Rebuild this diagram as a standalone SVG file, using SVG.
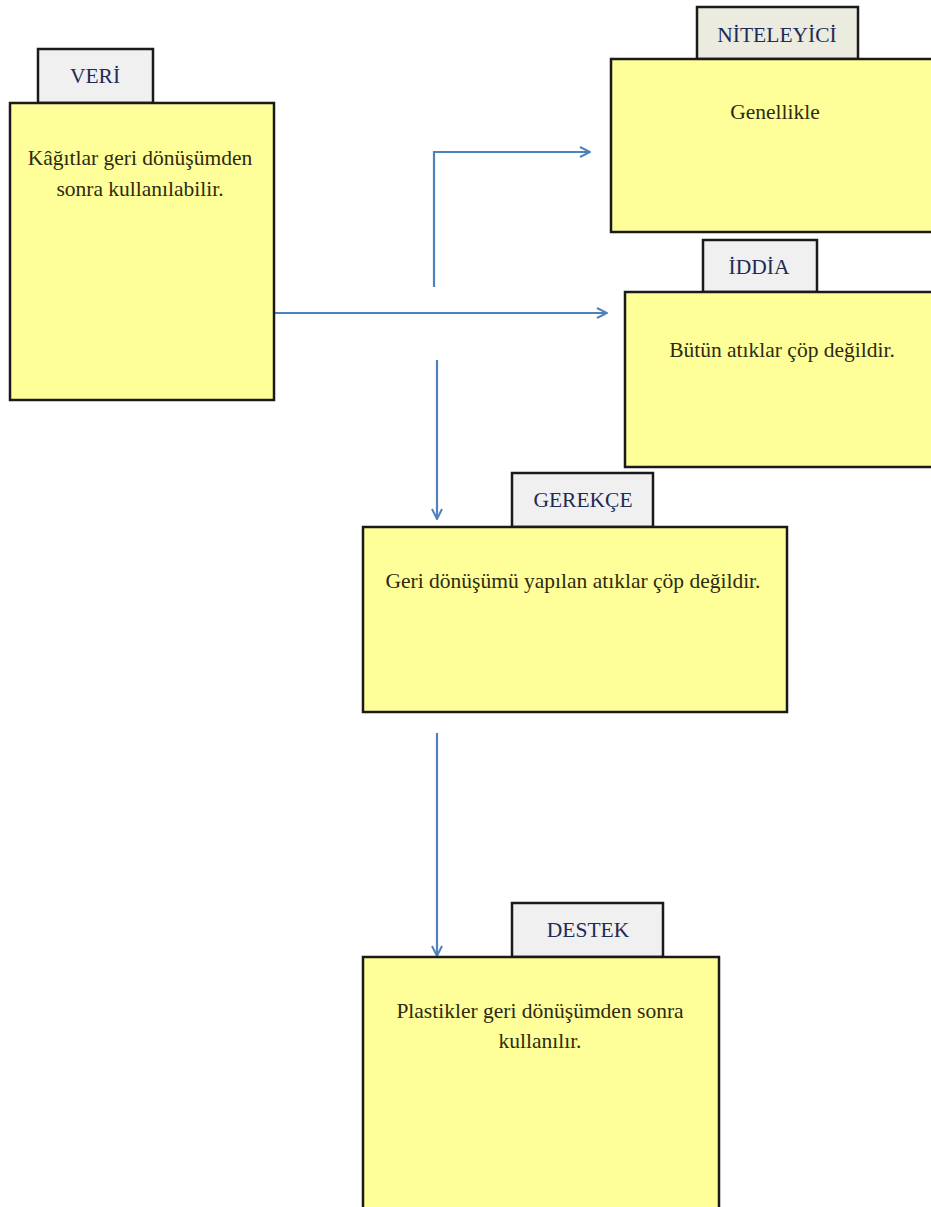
<svg xmlns="http://www.w3.org/2000/svg" width="931" height="1207" viewBox="0 0 931 1207">
<defs>
<style>
.box{fill:#ffff99;stroke:#1a1a1a;stroke-width:2.5}
.tab{fill:#f0f0f0;stroke:#1a1a1a;stroke-width:2.5}
.ttl{font-family:"Liberation Serif",serif;font-size:21.5px;fill:#1f2a55;text-anchor:middle}
.txt{font-family:"Liberation Serif",serif;font-size:21.5px;fill:#2e2a10;text-anchor:middle}
.con{fill:none;stroke:#4f81bd;stroke-width:2.2}
</style>
<marker id="ah" viewBox="0 0 12 12" refX="11" refY="6" markerWidth="12" markerHeight="12" markerUnits="userSpaceOnUse" orient="auto">
<path d="M1,1 L11,6 L1,11" fill="none" stroke="#4f81bd" stroke-width="2"/>
</marker>
</defs>
<rect width="931" height="1207" fill="#ffffff"/>
<g id="connectors">
<path class="con" d="M434,287 V152 H590" marker-end="url(#ah)"/>
<path class="con" d="M274,313 H607" marker-end="url(#ah)"/>
<path class="con" d="M437,360 V519" marker-end="url(#ah)"/>
<path class="con" d="M437,733 V956" marker-end="url(#ah)"/>
</g>
<g id="veri">
<rect class="tab" x="38" y="49" width="115" height="54"/>
<rect class="box" x="10" y="103" width="264" height="297"/>
<text class="ttl" x="95" y="83">VERİ</text>
<text class="txt" x="140" y="165">Kâğıtlar geri dönüşümden</text>
<text class="txt" x="140" y="196">sonra kullanılabilir.</text>
</g>
<g id="niteleyici">
<rect class="tab" x="697" y="7" width="161" height="52" style="fill:#ecebe0"/>
<rect class="box" x="611" y="59" width="330" height="173"/>
<text class="ttl" x="777" y="42">NİTELEYİCİ</text>
<text class="txt" x="775" y="119">Genellikle</text>
</g>
<g id="iddia">
<rect class="tab" x="703" y="240" width="114" height="52"/>
<rect class="box" x="625" y="292" width="316" height="175"/>
<text class="ttl" x="759" y="274">İDDİA</text>
<text class="txt" x="782" y="357">Bütün atıklar çöp değildir.</text>
</g>
<g id="gerekce">
<rect class="tab" x="512" y="473" width="141" height="54"/>
<rect class="box" x="363" y="527" width="424" height="185"/>
<text class="ttl" x="583" y="507">GEREKÇE</text>
<text class="txt" x="573" y="588">Geri dönüşümü yapılan atıklar çöp değildir.</text>
</g>
<g id="destek">
<rect class="tab" x="512" y="903" width="151" height="54"/>
<rect class="box" x="363" y="957" width="356" height="260"/>
<text class="ttl" x="588" y="937">DESTEK</text>
<text class="txt" x="540" y="1018">Plastikler geri dönüşümden sonra</text>
<text class="txt" x="540" y="1048">kullanılır.</text>
</g>
</svg>
